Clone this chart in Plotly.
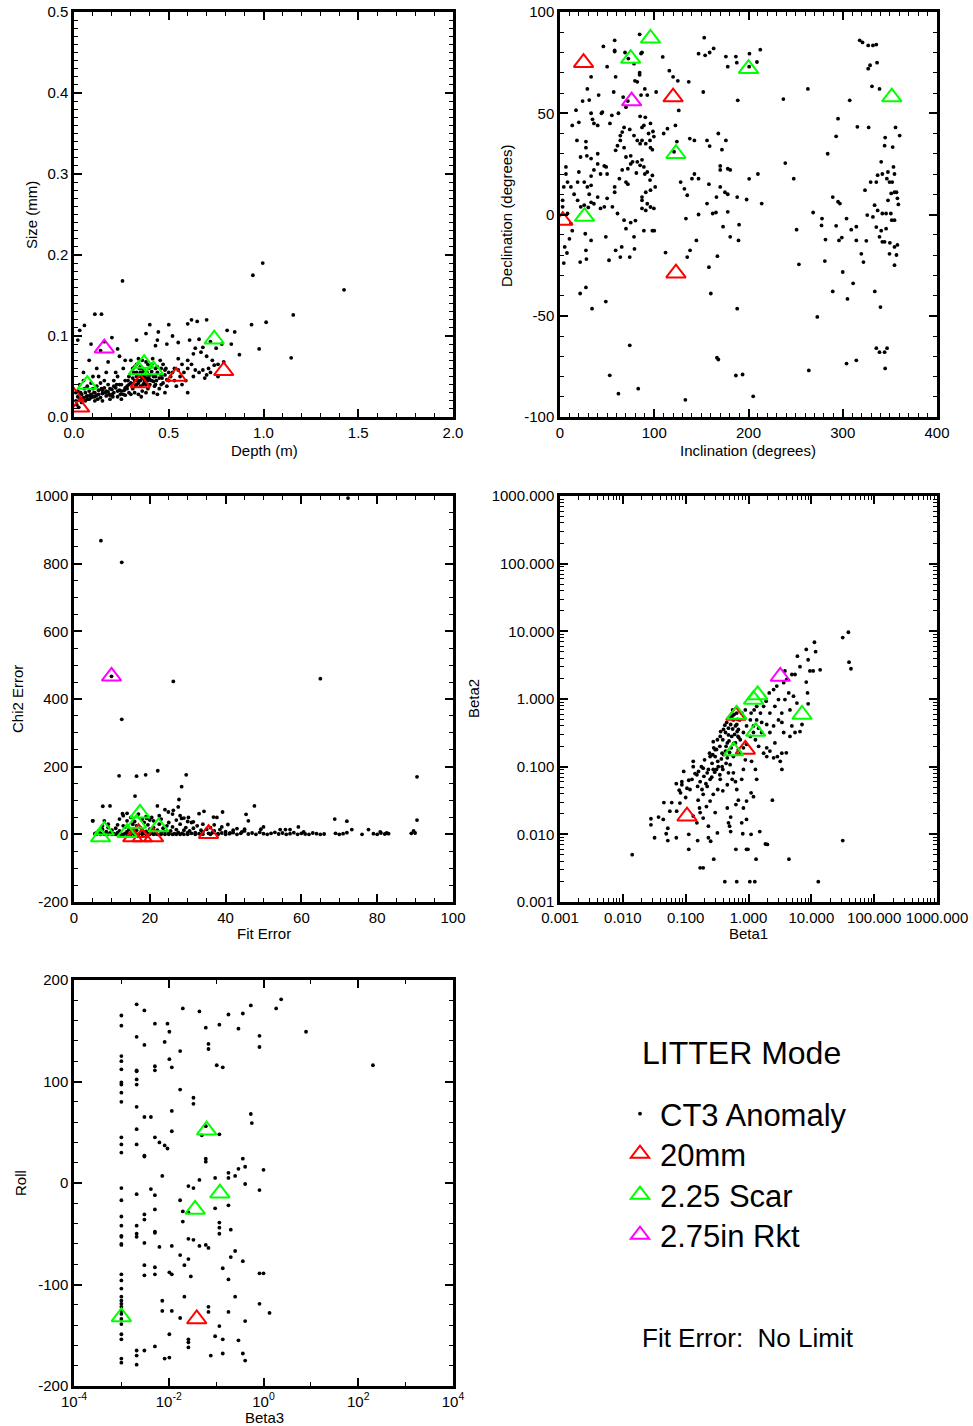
import plotly.graph_objects as go

FONT = "Liberation Sans, Arial, Helvetica, sans-serif"
W, H = 973, 1426

# ---------------- DATA ----------------
# Panel 1: Depth (m) vs Size (mm)
depth_size_ct3 = [
    (0.11, 0.127), (0.145, 0.127), (0.256, 0.168), (0.944, 0.175), (0.996, 0.190), (1.425, 0.157),
    (1.157, 0.126), (1.146, 0.073), (1.014, 0.117), (0.937, 0.114), (0.977, 0.084), (0.873, 0.077),
    (0.808, 0.107), (0.848, 0.105), (0.70, 0.120), (0.65, 0.118), (0.62, 0.120), (0.60, 0.115),
    (0.50, 0.114), (0.40, 0.114), (0.445, 0.105), (0.52, 0.100), (0.38, 0.103), (0.44, 0.095),
    (0.33, 0.095), (0.43, 0.088), (0.49, 0.090), (0.55, 0.092), (0.61, 0.095), (0.66, 0.096),
    (0.72, 0.093), (0.78, 0.090), (0.83, 0.090), (0.055, 0.113), (0.03, 0.107), (0.02, 0.095),
    (0.09, 0.090), (0.14, 0.082), (0.16, 0.093), (0.20, 0.098), (0.23, 0.084), (0.27, 0.070),
    (0.24, 0.075), (0.18, 0.068), (0.08, 0.070), (0.12, 0.060), (0.05, 0.055), (0.10, 0.050),
    (0.55, 0.072), (0.57, 0.065), (0.60, 0.070), (0.62, 0.065), (0.63, 0.078), (0.64, 0.085),
    (0.67, 0.080), (0.68, 0.086), (0.70, 0.075), (0.71, 0.060), (0.72, 0.055), (0.73, 0.070),
    (0.75, 0.085), (0.76, 0.065), (0.68, 0.058), (0.66, 0.055), (0.64, 0.058), (0.60, 0.060),
    (0.58, 0.055), (0.56, 0.050), (0.59, 0.045), (0.57, 0.040), (0.60, 0.030), (0.54, 0.038),
    (0.53, 0.045), (0.52, 0.055), (0.55, 0.058), (0.63, 0.050), (0.70, 0.052), (0.74, 0.064),
    (0.79, 0.068), (0.76, 0.050), (0.69, 0.048),
    (0.01, 0.020), (0.02, 0.025), (0.03, 0.022), (0.04, 0.028), (0.05, 0.024), (0.06, 0.030),
    (0.07, 0.026), (0.08, 0.032), (0.09, 0.028), (0.10, 0.035), (0.02, 0.032), (0.04, 0.018),
    (0.06, 0.020), (0.08, 0.022), (0.10, 0.025), (0.03, 0.040), (0.05, 0.045), (0.07, 0.038),
    (0.09, 0.042), (0.01, 0.030), (0.015, 0.015), (0.025, 0.012),
    (0.11, 0.030), (0.12, 0.027), (0.13, 0.033), (0.14, 0.024), (0.15, 0.029), (0.16, 0.036),
    (0.17, 0.026), (0.18, 0.031), (0.19, 0.022), (0.20, 0.034), (0.12, 0.038), (0.14, 0.042),
    (0.16, 0.045), (0.18, 0.040), (0.20, 0.028), (0.11, 0.020), (0.15, 0.020), (0.19, 0.027),
    (0.13, 0.050), (0.17, 0.055),
    (0.21, 0.030), (0.22, 0.036), (0.23, 0.025), (0.24, 0.040), (0.25, 0.032), (0.26, 0.028),
    (0.27, 0.045), (0.28, 0.035), (0.29, 0.030), (0.30, 0.042), (0.21, 0.045), (0.23, 0.050),
    (0.25, 0.022), (0.27, 0.027), (0.29, 0.050), (0.22, 0.055), (0.26, 0.060), (0.28, 0.038),
    (0.30, 0.028), (0.24, 0.033),
    (0.31, 0.035), (0.32, 0.045), (0.33, 0.040), (0.34, 0.050), (0.35, 0.038), (0.36, 0.055),
    (0.37, 0.042), (0.38, 0.048), (0.39, 0.035), (0.40, 0.052), (0.31, 0.060), (0.33, 0.055),
    (0.35, 0.062), (0.37, 0.058), (0.39, 0.065), (0.32, 0.030), (0.34, 0.028), (0.36, 0.032),
    (0.38, 0.030), (0.40, 0.040), (0.31, 0.048), (0.33, 0.065), (0.35, 0.045), (0.37, 0.050),
    (0.39, 0.045), (0.30, 0.070), (0.34, 0.072), (0.36, 0.070), (0.38, 0.068), (0.355, 0.025),
    (0.325, 0.038), (0.345, 0.060), (0.365, 0.040), (0.385, 0.055), (0.395, 0.060),
    (0.41, 0.045), (0.42, 0.050), (0.43, 0.040), (0.44, 0.055), (0.45, 0.048), (0.46, 0.060),
    (0.47, 0.042), (0.48, 0.052), (0.49, 0.046), (0.50, 0.055), (0.41, 0.065), (0.43, 0.060),
    (0.45, 0.035), (0.47, 0.065), (0.49, 0.038), (0.42, 0.030), (0.44, 0.028), (0.46, 0.040),
    (0.48, 0.030), (0.50, 0.045), (0.415, 0.072), (0.455, 0.070), (0.485, 0.060), (0.425, 0.038),
    (0.33, 0.050), (0.35, 0.055), (0.37, 0.046), (0.39, 0.052), (0.41, 0.056), (0.43, 0.050),
    (0.36, 0.048), (0.38, 0.040), (0.40, 0.046), (0.42, 0.044), (0.44, 0.062), (0.34, 0.042),
    (0.29, 0.040), (0.27, 0.036), (0.25, 0.040), (0.23, 0.032), (0.21, 0.038), (0.19, 0.035),
    (0.17, 0.032), (0.15, 0.033), (0.13, 0.028), (0.11, 0.025), (0.09, 0.024), (0.07, 0.022),
    (0.46, 0.052), (0.48, 0.058), (0.51, 0.050), (0.53, 0.060), (0.31, 0.041), (0.315, 0.055),
    (0.335, 0.045), (0.355, 0.050), (0.375, 0.054), (0.395, 0.048), (0.405, 0.062), (0.435, 0.045),
    (0.465, 0.048), (0.285, 0.045), (0.265, 0.033), (0.245, 0.028), (0.225, 0.040), (0.205, 0.025),
    (0.185, 0.028), (0.165, 0.030), (0.145, 0.035), (0.125, 0.022), (0.105, 0.030), (0.085, 0.027),
    (0.065, 0.025), (0.045, 0.022), (0.035, 0.030), (0.055, 0.035), (0.32, 0.062), (0.36, 0.060),
]
depth_size_20mm = [(0.0, 0.025), (0.03, 0.012), (0.35, 0.042), (0.54, 0.050), (0.79, 0.057)]
depth_size_scar = [(0.07, 0.040), (0.34, 0.058), (0.37, 0.066), (0.42, 0.058), (0.74, 0.096)]
depth_size_rkt = [(0.16, 0.085)]

# Panel 2: Inclination vs Declination (degrees)
incl_decl_ct3 = [
    (58, 86), (46, 83), (58, 81), (58, 80.5), (84.5, 89), (87, 80), (69, 80), (72.5, 77), (86, 79.5),
    (78.5, 74.5), (84.5, 70), (84.5, 69), (79.5, 66), (82, 65.5), (50, 73), (59, 68), (33, 68), (29, 62),
    (24, 56), (31, 56.5), (17, 51.5), (13, 44), (20, 45.5), (41, 59), (57, 60.5), (67, 58), (72, 56),
    (70, 53), (62, 50), (55, 49), (53, 45), (45, 50.6), (44, 50), (33, 50), (34.5, 47), (40, 44), (36, 45),
    (86, 59), (90, 62), (92.6, 59), (85, 48.5), (87, 43), (90.5, 48), (89, 44), (96, 45), (98.6, 41),
    (99.6, 38.5), (94, 40), (95.5, 36.6), (96, 33), (98, 32), (91, 35), (87, 36.6), (85, 35), (82, 36.6),
    (78.5, 39), (74, 42), (68, 43), (66, 40.7), (64, 39), (64, 36.6), (61, 34), (59, 31.7), (68, 33),
    (70, 28.4), (75, 29), (77, 26), (82, 26), (87, 27), (85, 24.3), (89, 23.5), (90, 20), (92.6, 21),
    (98, 19.3), (95.5, 17), (101, 13.6), (96, 12), (91, 11), (87, 8.6), (87, 7), (92.6, 5.3), (96, 3.7),
    (99.6, 3), (91, 2), (87, 3), (98, -8), (100, -8), (89, -8), (80, -3), (75, -4), (70, -7), (78.5, -11),
    (68, -2.8), (61, 0.5), (55.6, 3.8), (50, 8), (47, 3.8), (43, 3), (58, 11), (58, 13.6), (63, 17.7),
    (66, 22), (72, 22.6), (75, 25), (81, 20.5), (70, 16), (72, 15), (50, 20), (43, 20), (40, 25), (47, 24),
    (49, 23.5), (36, 22), (33, 14.4), (29, 13.6), (40, 8.6), (36, 5.3), (33, 6), (30, 3.5), (25.7, 4.6),
    (22, 3.8), (18.7, 7), (15, 10), (11.6, 13.6), (8, 16), (6.3, 20), (6.3, 23.5), (4, 13.6), (2.8, 7),
    (2.8, 3.8), (8, 0.5), (11.6, -4.5), (13, -8), (10, -12), (5, -16), (7.4, -19), (4, -24), (33, 19),
    (20, 21), (18.7, 16), (25.7, 16), (31, 10), (18, 36.6), (27.5, 36), (27.5, 33), (28.5, 29), (33, 27.6),
    (40, 30), (21.8, 28.4),
    (21.4, -39), (27.5, -36), (34, -46.5), (48.6, -43), (26.8, -9.5), (33, -12.8), (27.5, -17.7),
    (28, -22), (21.4, -23.5), (48.6, -11), (59, -17.7), (65.5, -16), (74, -21), (79, -17), (52, -22.6),
    (64, -21), (52.8, -79.4), (62, -88.5), (83, -86), (74, -64.6),
    (109, 77.8), (102, 60.5), (116, 71), (120, 68), (125, 66), (136.6, 65.5), (126, 51.4), (122.5, 44),
    (114, 42.4), (110, 40), (124, 36), (121, 31), (137.7, 37.5), (142.6, 36.6), (142.6, 20), (147, 17.7),
    (140, 17.7), (128, 16), (132, 12.7), (135, 9.5), (133.6, -2), (147, 0), (156, 5.4), (158, 15),
    (162, 0.5), (165.5, 1), (166, 8.6), (170, 13.6), (170, 22), (175, 11), (178, 10), (173, -6), (178, 1.3),
    (180.6, -11), (188, 8.6), (190, -5), (189.4, -12.8), (198, 7.4), (200.7, 17.6), (210, 20), (214, 5.4),
    (156, 36.6), (158.8, 33.8), (168, 40), (171.8, 32), (176, 36.6), (170, 24), (178, 22.6), (180.6, 22),
    (135, -21), (138, -17.7), (144.7, -12.8), (112, -18.8), (158, -26), (160, -39), (167, -20.6),
    (166.5, -70.7), (168, -71.6), (186.6, -79.5), (193.7, -79), (205, -89.8), (133, -91.5), (188, -46.5),
    (153, 87.3), (147, 79.4), (154, 78.6), (158.8, 80), (163, 82), (176, 78), (178, 73), (186.6, 78),
    (187.6, 75), (201, 79.4), (209, 75.3), (212.5, 81.4), (200.7, 73), (188.6, 56.4), (152, 60.5),
    (237, 57), (263, 62), (239, 25.4), (248, 17.7), (251, -7.5), (253.5, -24.6), (268.6, 1), (264, -77),
    (273, -50.6), (278, -2), (277.5, -5.4), (281.7, -12.4), (281, -23), (284, 30), (289.4, 8.6),
    (289.4, -38), (293, -5.6), (295, 6.3), (297, 5.4), (293, 38.6), (295, 47.3), (296, -12.8), (299, -11.4),
    (300, -28.4), (304, -2), (305, -41.7), (307.4, 56.4), (309, -7.5), (311, -34), (304, -73.6),
    (314.4, -72), (314.4, -6), (315.5, 43.3), (318, 86), (321, 85), (327, 83.5), (332, 83.5), (335.6, 83.9),
    (327, 72), (329, 73.7), (336.4, 75), (331, 63.3), (339, 62), (314.4, -12.8), (319.7, -19.4),
    (322, -23.5), (325, -13), (326, -0.3), (327.5, 43), (329.6, 16), (323.6, 12), (332, -1.2), (334, -38),
    (335.6, -66), (340, -45.7), (344.4, -68), (347, -66), (345, -76), (344.4, 34), (345, 38), (340.8, 26),
    (337, 19.4), (342, 20), (346.8, 17.7), (349.6, 16), (347.9, 21), (335.6, 16), (333.8, 4.6), (337, 2),
    (342, 0.5), (346, 0.5), (351, 0.5), (352, -2.8), (354.9, -2.8), (348, 7), (351.4, 10.4), (354.9, 11),
    (357, 11), (358, 8), (359, 5), (352.5, 16), (354.9, 20), (353.8, 23.5), (353, 33.3), (356, 43),
    (360.4, 39), (335.6, -6.2), (340.8, -8), (339, -11), (342, -13.5), (344.4, -13.5), (346, -7), (350, -14),
    (349.6, -19.4), (354.9, -16), (358, -15), (357, -20), (354.9, -25), (339, -68),
]
incl_decl_20mm = [(25, 75), (120, 58), (123, -29), (3, -3)]
incl_decl_scar = [(96, 87), (75, 77), (200, 72), (352, 58), (123, 30), (26, -1)]
incl_decl_rkt = [(76, 56)]

# Panel 3: Fit Error vs Chi2 Error
fit_chi2_ct3 = [
    (7.1, 868), (12.6, 804), (12.6, 340), (26.2, 452), (65, 460), (72.3, 994), (90.5, 170), (90.5, 42),
    (9.9, 467), (11.9, 173), (16.5, 172), (18.9, 176), (22.1, 188), (29.6, 176), (28.4, 141), (27.7, 103),
    (16.1, 113), (7.6, 83), (9.5, 84), (22, 84), (27.5, 81), (47.6, 84), (39.2, 66), (34.3, 68), (33, 61),
    (45.4, 59), (68.8, 45), (72, 39), (4.9, 40), (24, 73), (24.9, 66), (26.2, 71), (20.5, 50), (19.2, 47),
    (12.8, 61), (28.4, 47), (30.2, 50), (31.5, 37), (36.8, 51), (37.7, 50), (40.6, 29), (46, 40), (50, 22),
    (49.3, 15), (54.4, 14), (55.8, 14), (57, 14), (59.2, 22), (60.6, 7), (73.3, 14), (77.7, 14), (80.8, 7),
    (82.5, 4), (89.6, 10), (90, 4), (43, 17), (44.3, 7), (41.2, 4),
    (5, 40), (5.5, 2), (6, 5), (6.5, 10), (7, 3), (7.5, 15), (8, 1), (8.5, 8), (9, 20), (9.5, 4), (10, 12),
    (6, 0), (7, 0), (8, 0), (9, 0), (10, 0), (8, 40), (9, 30), (7.5, 25),
    (10.5, 2), (11, 18), (11.5, 5), (12, 10), (12.5, 0), (13, 25), (13.5, 3), (14, 8), (14.5, 15), (15, 2),
    (15.5, 30), (16, 5), (16.5, 12), (17, 0), (17.5, 20), (18, 4), (18.5, 35), (19, 9), (19.5, 2), (20, 15),
    (11, 0), (12, 0), (13, 0), (14, 0), (15, 0), (16, 0), (17, 0), (18, 0), (19, 0), (20, 0), (12, 45),
    (13, 55), (14, 40), (15, 50), (16, 38), (18, 45), (19, 52), (20, 42), (11.5, 28), (13.5, 22),
    (16.5, 25), (19.5, 28), (17, 60), (14, 62),
    (20.5, 5), (21, 20), (21.5, 2), (22, 12), (22.5, 30), (23, 4), (23.5, 18), (24, 8), (24.5, 25), (25, 3),
    (25.5, 10), (26, 22), (26.5, 2), (27, 14), (27.5, 6), (28, 30), (28.5, 3), (29, 12), (29.5, 20), (30, 5),
    (21, 0), (22, 0), (23, 0), (24, 0), (25, 0), (26, 0), (27, 0), (28, 0), (29, 0), (30, 0), (21, 40),
    (23, 45), (25, 35), (27, 42), (29, 48), (22.5, 55), (26, 60), (28, 55), (30, 38),
    (30.5, 10), (31, 3), (31.5, 18), (32, 5), (32.5, 25), (33, 2), (33.5, 12), (34, 7), (35, 15), (35.5, 3),
    (36, 20), (36.5, 5), (37, 10), (38, 2), (38.5, 14), (39, 4), (40, 8), (32, 0), (34, 0), (36, 0), (38, 0),
    (40, 0), (31, 35), (34, 30), (37, 28), (39, 22),
    (41, 2), (42, 5), (43, 0), (44, 3), (45, 10), (46, 1), (47, 4), (48, 0), (49, 6), (50, 2), (45, 15),
    (42, 12),
    (51, 0), (52, 3), (53, 6), (54, 1), (55, 4), (56, 0), (57, 2), (58, 5), (59, 0), (60, 3), (61, 1), (62, 0),
    (63, 4), (64, 2), (65, 0), (66, 1), (69, 3), (70, 0), (71, 2), (72, 5), (76, 0), (79, 2), (80, 0),
    (81, 4), (82, 1), (83, 2), (89, 3),
]
fit_chi2_20mm = [(15.5, -8), (18, -8), (21, -8), (35.5, 2), (17, 5)]
fit_chi2_scar = [(7, -8), (8, 12), (14, 5), (16.5, 32), (17.4, 62), (22.3, 22)]
fit_chi2_rkt = [(9.9, 467)]

# Panel 4: Beta1 vs Beta2 (log-log)
beta1_beta2_ct3 = [
    (0.0141, 0.0050), (31.6, 8.1), (38.9, 9.7), (39.8, 3.5), (42.7, 2.8), (31.6, 0.0081), (12.9, 0.0020),
    (11.2, 6.9), (11.7, 5.0), (8.3, 5.4), (6.0, 4.3), (8.9, 3.8), (9.5, 2.6), (10.7, 2.6), (13.8, 2.7),
    (6.6, 3.0), (5.5, 2.3), (8.3, 1.78), (8.7, 1.23), (8.9, 0.85), (7.1, 0.42), (6.6, 0.33), (4.4, 0.0043),
    (2.4, 0.032), (3.4, 0.45), (3.2, 0.12), (3.4, 0.091), (4.0, 0.16), (2.0, 0.0071), (1.86, 0.0072),
    (1.32, 0.0043), (0.98, 0.0060), (1.26, 0.0020), (1.05, 0.0020), (0.65, 0.0020), (0.42, 0.0020),
    (0.28, 0.0043), (0.17, 0.0032), (0.19, 0.0032), (0.63, 0.0060), (0.93, 0.0060), (0.48, 0.0148),
    (0.50, 0.0132), (0.52, 0.0110), (0.81, 0.0102), (1.51, 0.0110), (1.10, 0.0100), (0.23, 0.0132),
    (0.23, 0.0089), (0.25, 0.0079), (0.32, 0.0105), (0.155, 0.0081), (0.112, 0.0060), (0.112, 0.0100),
    (0.071, 0.0089), (0.052, 0.0081), (0.049, 0.0102), (0.052, 0.0123), (0.032, 0.0089), (0.028, 0.017),
    (0.028, 0.0138), (0.037, 0.018), (0.044, 0.0166), (0.045, 0.0295), (0.060, 0.0295), (0.056, 0.022),
    (0.072, 0.022), (0.081, 0.029), (0.083, 0.041), (0.087, 0.060), (0.087, 0.054), (0.093, 0.085),
    (0.105, 0.048), (0.117, 0.046), (0.126, 0.065), (0.132, 0.100), (0.132, 0.120), (0.151, 0.076),
    (0.158, 0.032), (0.166, 0.0245), (0.19, 0.039), (0.22, 0.051), (0.22, 0.081), (0.245, 0.141),
    (0.275, 0.234), (0.295, 0.178), (0.31, 0.091), (0.324, 0.046), (0.355, 0.065), (0.38, 0.100),
    (0.40, 0.151), (0.44, 0.20), (0.48, 0.295), (0.52, 0.42), (0.575, 0.49), (0.62, 0.40), (0.65, 0.62),
    (0.46, 0.135), (0.51, 0.107), (0.575, 0.081), (0.62, 0.060), (0.65, 0.046), (0.63, 0.0275),
    (0.69, 0.032), (0.78, 0.065), (0.83, 0.091), (0.89, 0.126), (0.74, 0.158), (0.93, 0.214), (1.07, 0.28),
    (1.20, 0.40), (1.35, 0.49), (1.55, 0.62), (1.74, 0.78), (1.91, 0.93), (2.14, 1.23), (2.51, 1.38),
    (2.82, 1.55), (3.63, 1.74), (4.07, 1.95), (4.9, 2.3), (3.8, 2.6), (3.0, 0.98), (2.63, 0.78), (2.19, 0.62),
    (1.95, 0.42), (2.19, 0.32), (2.63, 0.224), (1.95, 0.19), (1.74, 0.158), (1.45, 0.20), (1.29, 0.25),
    (1.62, 0.32), (1.12, 0.12), (1.29, 0.091), (1.35, 0.065), (1.20, 0.036), (1.10, 0.041), (0.93, 0.031),
    (0.83, 0.0245), (1.95, 0.141), (2.19, 0.17), (2.51, 0.135), (2.88, 0.141), (3.39, 0.158), (4.57, 0.69),
    (5.9, 0.87), (5.2, 1.10), (4.37, 1.23), (3.8, 0.98), (3.39, 0.62), (3.0, 0.49), (2.51, 0.40),
    (3.63, 0.32), (4.57, 0.28), (5.5, 0.32), (4.9, 0.40),
    (0.51, 0.52), (0.56, 0.69), (0.59, 0.59), (0.65, 0.42), (0.69, 0.355), (0.48, 0.37), (0.43, 0.32),
    (0.39, 0.25), (0.35, 0.20), (0.295, 0.141), (0.263, 0.112), (0.23, 0.091), (0.195, 0.072), (0.17, 0.060),
    (0.155, 0.051), (0.182, 0.046), (0.245, 0.065), (0.275, 0.091), (0.324, 0.12), (0.38, 0.158),
    (0.46, 0.224), (0.54, 0.28), (0.62, 0.224), (0.69, 0.178), (0.575, 0.141), (0.50, 0.162), (0.44, 0.112),
    (0.39, 0.091), (0.35, 0.076), (0.48, 0.081), (0.55, 0.065), (0.46, 0.054), (0.39, 0.044), (0.275, 0.039),
    (0.245, 0.031), (0.214, 0.0257), (0.17, 0.021), (0.132, 0.0186), (0.151, 0.0148), (0.19, 0.0174),
    (0.295, 0.021), (0.46, 0.0245), (0.52, 0.018), (0.78, 0.0148), (0.93, 0.0166), (0.83, 0.19),
    (0.74, 0.25), (0.68, 0.28), (0.72, 0.49), (0.78, 0.62), (0.89, 0.69), (1.10, 0.62), (1.23, 0.69),
    (1.35, 0.78), (1.07, 0.49), (0.93, 0.40), (0.83, 0.32), (1.20, 0.32), (1.45, 0.37), (1.62, 0.45),
    (0.45, 0.45), (0.40, 0.355), (0.355, 0.28), (0.32, 0.25), (0.28, 0.19), (0.24, 0.158), (0.20, 0.126),
    (0.178, 0.10), (0.141, 0.079), (0.112, 0.063), (0.10, 0.035), (0.079, 0.045), (0.071, 0.056),
    (0.56, 0.36), (0.60, 0.30), (0.66, 0.33), (0.70, 0.27), (0.58, 0.22), (0.53, 0.19), (0.49, 0.24),
    (0.43, 0.17), (0.37, 0.13), (0.33, 0.10), (0.29, 0.083), (0.26, 0.070), (0.21, 0.056), (0.19, 0.095),
    (0.16, 0.085), (0.27, 0.15), (0.31, 0.18), (0.36, 0.33), (0.42, 0.41), (0.55, 0.56), (0.67, 0.50),
]
beta1_beta2_20mm = [(0.105, 0.0185), (0.63, 0.57), (0.89, 0.18)]
beta1_beta2_scar = [(1.2, 0.98), (1.4, 1.15), (7.1, 0.59), (1.3, 0.33), (0.58, 0.17), (0.65, 0.59)]
beta1_beta2_rkt = [(3.2, 2.15)]

# Panel 5: Beta3 (log) vs Roll
beta3_roll_ct3 = [
    (0.001, 165), (0.001, 155), (0.001, 125), (0.001, 120), (0.001, 112), (0.001, 99), (0.001, 97),
    (0.001, 89), (0.001, 80), (0.001, 45), (0.001, 38), (0.001, 30), (0.001, -5), (0.001, -17),
    (0.001, -33), (0.001, -42), (0.001, -52), (0.001, -53), (0.001, -60), (0.001, -61), (0.001, -90),
    (0.001, -96), (0.001, -104), (0.001, -112), (0.001, -116), (0.001, -119), (0.001, -122), (0.001, -126),
    (0.001, -129), (0.001, -134), (0.001, -139), (0.001, -149), (0.001, -154), (0.001, -173), (0.001, -177),
    (0.0021, 176), (0.0021, 144), (0.0021, 111), (0.0021, 110), (0.0021, 102), (0.0021, 97), (0.0021, 75),
    (0.0021, 53), (0.0021, 38), (0.0021, -11), (0.0021, -42), (0.0021, -50), (0.0021, -53), (0.0021, -165),
    (0.0021, -170), (0.0021, -179),
    (0.00306, 170), (0.00306, 136), (0.00306, 65), (0.00306, 27), (0.00306, 26), (0.00306, -36),
    (0.00306, -31), (0.00306, -59), (0.00306, -81), (0.00306, -91), (0.00306, -165),
    (0.0042, 65), (0.0042, -6),
    (0.0051, 157), (0.0051, 115), (0.0051, 111), (0.0051, 45), (0.0051, -12), (0.0051, -26), (0.0051, -48),
    (0.0051, -49), (0.0051, -83), (0.0051, -90), (0.0051, -161),
    (0.00635, 40), (0.00635, -63), (0.0073, 7), (0.0073, -116), (0.0073, -126), (0.0082, 139), (0.0082, 37),
    (0.0082, -173), (0.0094, 157), (0.0094, 34), (0.0103, 149), (0.0103, 122), (0.0103, -88),
    (0.0103, -149), (0.0103, -172),
    (0.0116, 114), (0.0116, 71), (0.0116, 51), (0.0116, -62), (0.0116, -90), (0.0116, -126),
    (0.0174, 130), (0.0174, 92), (0.0174, -17), (0.0174, -71), (0.0174, -133),
    (0.0198, 172), (0.0198, -38), (0.0198, -28), (0.0214, -112), (0.0214, -81),
    (0.026, -3), (0.026, -29), (0.026, -55), (0.026, -75), (0.026, -154), (0.026, -157), (0.026, -162),
    (0.0292, -92), (0.0332, 84), (0.0332, 78), (0.0332, -5), (0.0332, -56),
    (0.0444, 169), (0.0444, 3), (0.0444, -62), (0.0498, 47),
    (0.0605, 153), (0.0605, 24), (0.0605, 21), (0.0605, 56), (0.0605, -61),
    (0.0689, 137), (0.0689, 132), (0.0689, -122), (0.0689, -127), (0.0689, -64), (0.0771, -170),
    (0.0953, 5), (0.0953, -25), (0.0953, -151), (0.103, 116),
    (0.117, 156), (0.117, 48), (0.117, -39), (0.117, -44), (0.117, -50), (0.117, -141),
    (0.138, 114), (0.138, -84), (0.138, -154), (0.138, -168),
    (0.182, 166), (0.182, 10), (0.182, 5), (0.182, -22), (0.182, -95), (0.182, -127),
    (0.204, -46), (0.204, -73), (0.252, 7), (0.252, -67), (0.252, -112),
    (0.296, 152), (0.296, 14), (0.296, -155), (0.366, 167), (0.366, 24), (0.366, -77), (0.366, -168),
    (0.41, 16), (0.41, -1), (0.41, -136), (0.41, -175), (0.54, 175), (0.54, 68), (0.567, 59),
    (0.823, 145), (0.823, 134), (0.823, -7), (0.823, -89), (0.823, -119), (1.0, -89), (1.0, 13),
    (1.34, -128), (1.85, 172), (2.36, 181), (7.9, 149), (204, 116),
]
beta3_roll_20mm = [(0.039, -134)]
beta3_roll_scar = [(0.001, -132), (0.036, -26), (0.063, 52), (0.12, -10)]
beta3_roll_rkt = []

series_names = ["CT3 Anomaly", "20mm", "2.25 Scar", "2.75in Rkt"]
series_colors = ["black", "#FF0000", "#00FF00", "#FF00FF"]

# Tick values / labels
decl_ticks = [-100, -50, 0, 50, 100]
decl_ticks_text = ["-100", "-50", "0", "50", "100"]
chi2_ticks = [-200, 0, 200, 400, 600, 800, 1000]
chi2_ticks_text = ["-200", "0", "200", "400", "600", "800", "1000"]
roll_ticks = [-200, -100, 0, 100, 200]
roll_ticks_text = ["-200", "-100", "0", "100", "200"]
log_ticks_beta = [0.001, 0.01, 0.1, 1, 10, 100, 1000]
log_ticks_beta_text = ["0.001", "0.010", "0.100", "1.000", "10.000", "100.000", "1000.000"]
beta3_ticks = [1e-4, 1e-2, 1, 1e2, 1e4]
beta3_ticks_text = ["10<sup>-4</sup>", "10<sup>-2</sup>", "10<sup>0</sup>", "10<sup>2</sup>", "10<sup>4</sup>"]
beta3_minor = [1e-3, 1e-1, 10, 1e3]

# ---------------- LAYOUT HELPERS ----------------
def fx(p):
    return p / W


def fy(p):
    return 1 - p / H


COL_L = [fx(74), fx(453)]
COL_R = [fx(560), fx(937)]
ROW1 = [fy(417), fy(12)]
ROW2 = [fy(902), fy(496)]
ROW3 = [fy(1386), fy(980)]


def axis(domain, anchor, minor_kw, **kw):
    d = dict(
        domain=domain, anchor=anchor, showline=True, linewidth=2.5, linecolor="black",
        mirror="allticks", ticks="inside", ticklen=8, tickwidth=1.5, tickcolor="black",
        showgrid=False, zeroline=False, tickangle=0, automargin=False,
        tickfont=dict(family=FONT, size=15, color="black"),
        minor=dict(ticks="inside", ticklen=4, tickwidth=1.2, tickcolor="black", showgrid=False, **minor_kw),
    )
    d.update(kw)
    return d


fig = go.Figure()

panels = [
    ("x", "y", [depth_size_ct3, depth_size_20mm, depth_size_scar, depth_size_rkt]),
    ("x2", "y2", [incl_decl_ct3, incl_decl_20mm, incl_decl_scar, incl_decl_rkt]),
    ("x3", "y3", [fit_chi2_ct3, fit_chi2_20mm, fit_chi2_scar, fit_chi2_rkt]),
    ("x4", "y4", [beta1_beta2_ct3, beta1_beta2_20mm, beta1_beta2_scar, beta1_beta2_rkt]),
    ("x5", "y5", [beta3_roll_ct3, beta3_roll_20mm, beta3_roll_scar, beta3_roll_rkt]),
]
legend_ids = ["legend", "legend2", "legend3", "legend4"]

for pi, (xa, ya, series) in enumerate(panels):
    for si, pts in enumerate(series):
        xs = [p[0] for p in pts]
        ys = [p[1] for p in pts]
        if si == 0:
            marker = dict(symbol="circle", size=3.8, color="black", line=dict(width=0))
        else:
            marker = dict(symbol="triangle-up-open", size=17, color=series_colors[si], line=dict(width=2))
        fig.add_trace(go.Scatter(
            x=xs, y=ys, xaxis=xa, yaxis=ya, mode="markers", marker=marker,
            name=series_names[si], showlegend=(pi == 0), legend=legend_ids[si],
            hoverinfo="skip",
        ))

fig.update_layout(
    width=W, height=H, margin=dict(l=0, r=0, t=0, b=0, pad=0, autoexpand=False),
    paper_bgcolor="white", plot_bgcolor="white",
    font=dict(family=FONT, size=15, color="black"),
    xaxis=axis(COL_L, "y", dict(dtick=0.1), range=[0, 2.0], dtick=0.5, tick0=0, tickformat=".1f"),
    yaxis=axis(ROW1, "x", dict(dtick=0.01), range=[0, 0.5], dtick=0.1, tick0=0, tickformat=".1f"),
    xaxis2=axis(COL_R, "y2", dict(dtick=10), range=[0, 400], dtick=100, tick0=0),
    yaxis2=axis(ROW1, "x2", dict(dtick=10, tick0=0), range=[-100, 100], tickmode="array",
                tickvals=decl_ticks, ticktext=decl_ticks_text),
    xaxis3=axis(COL_L, "y3", dict(dtick=5), range=[0, 100], dtick=20, tick0=0),
    yaxis3=axis(ROW2, "x3", dict(dtick=50, tick0=0), range=[-200, 1000], tickmode="array",
                tickvals=chi2_ticks, ticktext=chi2_ticks_text),
    xaxis4=axis(COL_R, "y4", dict(dtick="D1"), type="log", range=[-3, 3], tickmode="array",
                tickvals=log_ticks_beta, ticktext=log_ticks_beta_text),
    yaxis4=axis(ROW2, "x4", dict(dtick="D1"), type="log", range=[-3, 3], tickmode="array",
                tickvals=log_ticks_beta, ticktext=log_ticks_beta_text),
    xaxis5=axis(COL_L, "y5", dict(tickmode="array", tickvals=beta3_minor), type="log", range=[-4, 4],
                tickmode="array", tickvals=beta3_ticks, ticktext=beta3_ticks_text),
    yaxis5=axis(ROW3, "x5", dict(dtick=20, tick0=0), range=[-200, 200], tickmode="array",
                tickvals=roll_ticks, ticktext=roll_ticks_text),
)

# Legends (one per entry so that spacing matches)
legend_rows = [1114, 1154, 1195, 1235]
for lid, row in zip(legend_ids, legend_rows):
    fig.update_layout({lid: dict(
        x=fx(620), y=fy(row), xanchor="left", yanchor="middle",
        font=dict(family=FONT, size=31, color="black"), bgcolor="rgba(0,0,0,0)",
        borderwidth=0, itemsizing="trace", itemclick=False, itemdoubleclick=False,
    )})

annotations = [
    ("Size (mm)", 32, 215, -90, 15, "center"),
    ("Depth (m)", 264, 450, 0, 15, "center"),
    ("Declination (degrees)", 507, 215, -90, 15, "center"),
    ("Inclination (degrees)", 748, 450, 0, 15, "center"),
    ("Chi2 Error", 17, 699, -90, 15, "center"),
    ("Fit Error", 264, 934, 0, 15, "center"),
    ("Beta2", 473, 699, -90, 15, "center"),
    ("Beta1", 748, 933, 0, 15, "center"),
    ("Roll", 20, 1183, -90, 15, "center"),
    ("Beta3", 264, 1417, 0, 15, "center"),
    ("LITTER Mode", 741, 1053, 0, 32, "center"),
    ("Fit Error:\u00a0 No Limit", 640, 1338, 0, 26, "left"),
]
for text, x, y, ang, size, xa in annotations:
    fig.add_annotation(
        text=text, x=fx(x), y=fy(y), xref="paper", yref="paper", showarrow=False,
        textangle=ang, xanchor=xa, yanchor="middle",
        font=dict(family=FONT, size=size, color="black"),
    )

fig.write_html("out.html")
